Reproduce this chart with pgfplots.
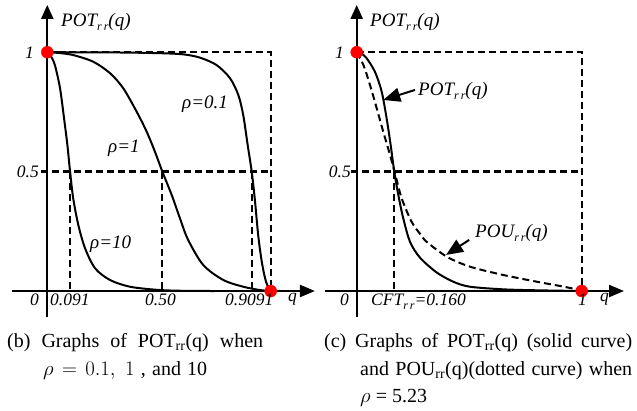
\documentclass[border=0pt]{standalone}
\usepackage{fontspec}
\setmainfont{Liberation Serif}
\usepackage{pgfplots}
\pgfplotsset{compat=1.18}
\usetikzlibrary{arrows.meta}
\newcommand\rr{\raisebox{-0.5ex}{\fontsize{12}{12}\selectfont\itshape r\,r}}
\newcommand\tl{\fontsize{17.5}{18}\selectfont\itshape}
\newcommand\lb{\fontsize{19}{20}\selectfont\itshape}
\newcommand\cp{\fontsize{20}{22}\selectfont}
\pgfplotsset{panel/.style={scale only axis, hide axis, clip=false, height=320pt,
  ymin=-0.1214, ymax=1.2186, anchor=north west},
  curve/.style={black, line width=2pt, smooth, tension=0.5},
  dot/.style={only marks, mark=*, mark size=6pt, red, mark options={draw=none, fill=red}}}
\tikzset{gl/.style={black, line width=2.3pt, dash pattern=on 7pt off 4pt}}
\begin{document}
\begin{tikzpicture}
\useasboundingbox (0pt,0pt) rectangle (637pt,-410pt);
% ---------------- left panel (b)
\begin{axis}[panel, at={(0pt,0pt)}, width=320pt, xmin=-0.2117, xmax=1.2207]
\addplot[gl] coordinates {(0,1) (1,1) (1,0)};
\addplot[gl] coordinates {(-0.03,0.5) (1,0.5)};
\addplot[gl] coordinates {(0.102,0.5) (0.102,0)};
\addplot[gl] coordinates {(0.515,0.5) (0.515,0)};
\addplot[gl] coordinates {(0.915,0.5) (0.915,0)};
% rho = 10
\addplot[curve] coordinates {(0,1) (0.015,0.985) (0.034,0.946) (0.057,0.849) (0.075,0.723) (0.09,0.611) (0.102,0.5) (0.116,0.388) (0.139,0.276) (0.169,0.179) (0.214,0.095) (0.281,0.046) (0.37,0.018) (0.49,0.005) (0.6,0.001) (0.75,0)};
% rho = 1
\addplot[curve] coordinates {(0,1) (0.05,0.997) (0.116,0.988) (0.206,0.96) (0.281,0.912) (0.34,0.849) (0.40,0.751) (0.445,0.667) (0.482,0.583) (0.515,0.5) (0.557,0.402) (0.594,0.304) (0.63,0.215) (0.698,0.109) (0.788,0.046) (0.877,0.018) (0.952,0.004) (1,0)};
% rho = 0.1
\addplot[curve] coordinates {(0,1) (0.3,0.999) (0.5,0.996) (0.609,0.991) (0.684,0.977) (0.758,0.946) (0.818,0.891) (0.855,0.821) (0.877,0.737) (0.897,0.611) (0.915,0.5) (0.93,0.374) (0.944,0.234) (0.96,0.123) (0.979,0.039) (1,0)};
\draw[line width=2.2pt, -{Triangle[length=15pt,width=12pt]}] (axis cs:-0.158,0) -- (axis cs:1.198,0);
\draw[line width=2.2pt, -{Triangle[length=14pt,width=12pt]}] (axis cs:0,-0.109) -- (axis cs:0,1.198);
\addplot[dot] coordinates {(0,1) (1,0)};
\end{axis}
% ---------------- right panel (c)
\begin{axis}[panel, at={(318pt,0pt)}, width=319pt, xmin=-0.172, xmax=1.2458]
\addplot[gl] coordinates {(0,1) (1,1) (1,0)};
\addplot[gl] coordinates {(-0.025,0.5) (1,0.5)};
\addplot[gl] coordinates {(0.167,0.5) (0.167,0)};
% POT (solid)
\addplot[curve] coordinates {(0,1) (0.02,0.995) (0.044,0.975) (0.081,0.918) (0.111,0.835) (0.133,0.723) (0.151,0.611) (0.167,0.5) (0.185,0.402) (0.207,0.304) (0.237,0.206) (0.281,0.14) (0.355,0.078) (0.429,0.039) (0.503,0.018) (0.652,0.007) (0.8,0.003) (1,0)};
% POU (dashed)
\addplot[curve, line width=2pt, dash pattern=on 7pt off 4pt] coordinates {(0,1) (0.03,0.946) (0.059,0.863) (0.089,0.765) (0.118,0.667) (0.148,0.57) (0.17,0.493) (0.2,0.388) (0.244,0.29) (0.281,0.24) (0.311,0.206) (0.4,0.144) (0.503,0.102) (0.652,0.067) (0.8,0.039) (0.904,0.021) (0.978,0.007) (1,0)};
\draw[line width=2.2pt, -{Triangle[length=15pt,width=12pt]}] (axis cs:-0.141,0) -- (axis cs:1.188,0);
\draw[line width=2.2pt, -{Triangle[length=14pt,width=12pt]}] (axis cs:0,-0.109) -- (axis cs:0,1.198);
\draw[line width=2pt, -{Triangle[length=17pt,width=14pt]}] (axis cs:0.259,0.842) -- (axis cs:0.118,0.80);
\draw[line width=2pt, -{Triangle[length=17pt,width=14pt]}] (axis cs:0.5,0.214) -- (axis cs:0.397,0.151);
\addplot[dot] coordinates {(0,1) (1,0)};
\end{axis}
% ---------------- texts (pixel coordinates)
\begin{scope}[x=1pt, y=-1pt, inner sep=0pt]
% left
\node[anchor=base west] at (61,26) {\lb POT\rr(q)};
\node[anchor=east] at (34,53) {\tl 1};
\node[anchor=east] at (39,172) {\tl 0.5};
\node[anchor=base east] at (39,305) {\tl 0};
\node[anchor=base west] at (50,305) {\tl 0.091};
\node[anchor=base west] at (145,305) {\tl 0.50};
\node[anchor=base west] at (225,305) {\tl 0.9091};
\node[anchor=base west] at (288,301) {\tl q};
\node[anchor=base west] at (182,108) {\lb ρ=0.1};
\node[anchor=base west] at (108,152) {\lb ρ=1};
\node[anchor=base west] at (90,248) {\lb ρ=10};
% right
\node[anchor=base west] at (370,26) {\lb POT\rr(q)};
\node[anchor=east] at (344,53) {\tl 1};
\node[anchor=east] at (351,172) {\tl 0.5};
\node[anchor=base east] at (349,305) {\tl 0};
\node[anchor=base west] at (371,305) {\tl CFT\rr=0.160};
\node[anchor=base west] at (578,305) {\tl 1};
\node[anchor=base west] at (600,301) {\tl q};
\node[anchor=base west] at (418,95) {\lb POT\rr(q)};
\node[anchor=base west] at (475,237) {\lb POU\rr(q)};
% captions
\node[anchor=base west] at (7,347) {\cp\makebox[256pt][s]{(b) Graphs of POT\textsubscript{rr}(q) when}};
\node[anchor=base west] at (43,375) {\cp\makebox[164pt][s]{$\rho = 0.1,\ 1$ , and 10}};
\node[anchor=base west] at (324,347) {\cp\makebox[308pt][s]{(c) Graphs of POT\textsubscript{rr}(q) (solid curve)}};
\node[anchor=base west] at (360,375) {\cp\makebox[272pt][s]{and POU\textsubscript{rr}(q)(dotted curve) when}};
\node[anchor=base west] at (360,402) {\cp\makebox[67pt][s]{$\rho$\ = 5.23}};
\end{scope}
\end{tikzpicture}
\end{document}
